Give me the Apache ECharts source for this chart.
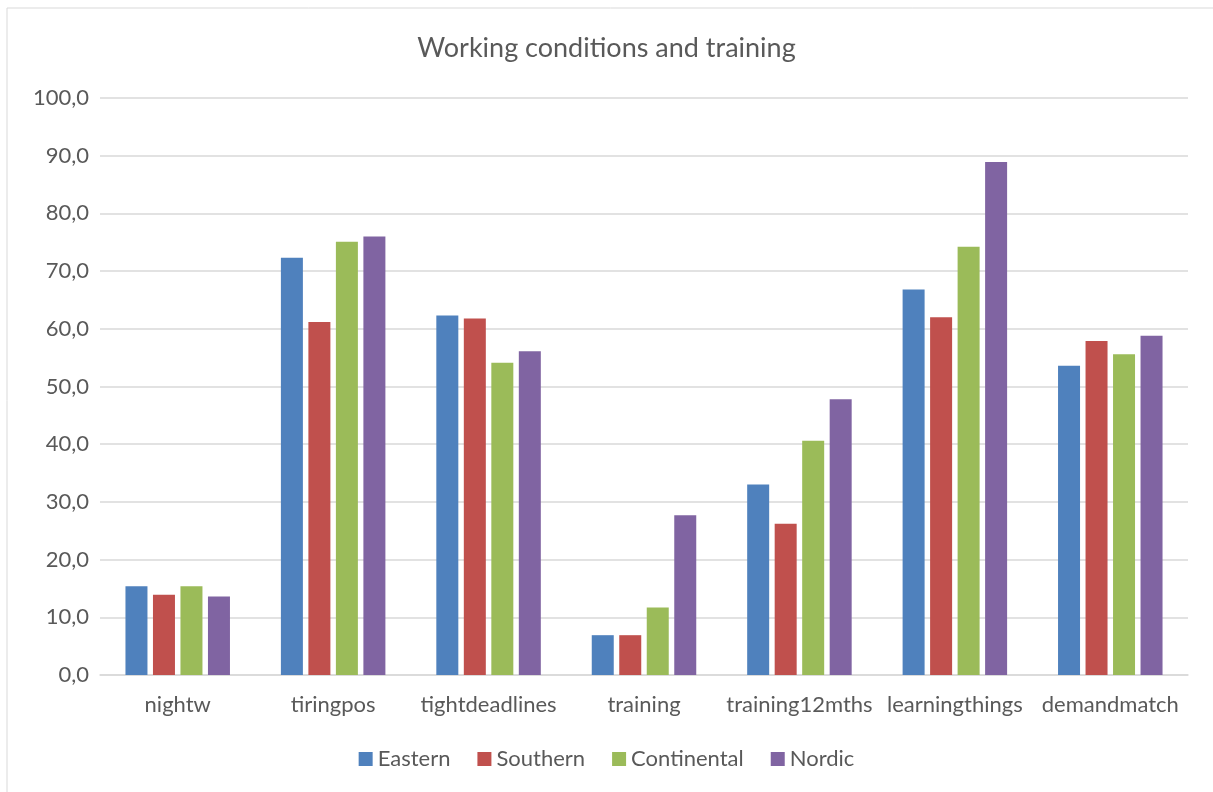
<!DOCTYPE html>
<html>
<head>
<meta charset="utf-8">
<script src="https://cdn.jsdelivr.net/npm/echarts@6/dist/echarts.min.js"></script>
<style>
  html, body { margin: 0; padding: 0; background: #fff; }
  #wrap { width: 1213px; height: 792px; }
</style>
</head>
<body>
<div id="wrap"></div>
<script>
var categories = ['nightw', 'tiringpos', 'tightdeadlines', 'training', 'training12mths', 'learningthings', 'demandmatch'];
var eastern = [15.4, 72.3, 62.3, 6.9, 33.0, 66.8, 53.6];
var southern = [13.9, 61.2, 61.8, 6.9, 26.2, 62.0, 57.9];
var continental = [15.4, 75.1, 54.1, 11.7, 40.6, 74.2, 55.6];
var nordic = [13.6, 76.0, 56.1, 27.7, 47.8, 88.9, 58.8];

var textColor = '#595959';
var fontFamily = 'Lato, "Open Sans", sans-serif';

function bar(name, data, color) {
    return {
        name: name,
        type: 'bar',
        data: data,
        barWidth: 22,
        barGap: '25%',
        itemStyle: { color: color }
    };
}

var option = {
    animation: false,
    textStyle: { fontFamily: fontFamily },
    title: {
        text: 'Working conditions and training',
        left: 'center',
        top: 30,
        textStyle: { color: textColor, fontSize: 27, fontWeight: 'normal', fontFamily: fontFamily }
    },
    graphic: [{
        type: 'rect',
        shape: { x: 7, y: 8, width: 1212, height: 790 },
        style: { fill: null, stroke: '#d9d9d9', lineWidth: 1 },
        silent: true
    }],
    legend: {
        data: ['Eastern', 'Southern', 'Continental', 'Nordic'],
        bottom: 17,
        left: 'center',
        itemWidth: 14,
        itemHeight: 14,
        itemGap: 27,
        icon: 'rect',
        textStyle: { color: textColor, fontSize: 22, fontFamily: fontFamily }
    },
    grid: {
        left: 100,
        right: 25,
        top: 98,
        bottom: 117
    },
    xAxis: {
        type: 'category',
        data: categories,
        axisTick: { show: false },
        axisLine: { lineStyle: { color: '#d9d9d9', width: 1.5 } },
        axisLabel: { color: textColor, fontSize: 22, margin: 19, interval: 0, fontFamily: fontFamily }
    },
    yAxis: {
        type: 'value',
        min: 0,
        max: 100,
        interval: 10,
        axisLine: { show: false },
        axisTick: { show: false },
        splitLine: { lineStyle: { color: '#d9d9d9', width: 1.5 } },
        axisLabel: {
            color: textColor,
            fontSize: 22,
            margin: 11,
            fontFamily: fontFamily,
            formatter: function (v) { return v.toFixed(1).replace('.', ','); }
        }
    },
    series: [
        bar('Eastern', eastern, '#4f81bd'),
        bar('Southern', southern, '#c0504d'),
        bar('Continental', continental, '#9bbb59'),
        bar('Nordic', nordic, '#8064a2')
    ]
};

var myChart = echarts.init(document.getElementById('wrap'));
myChart.setOption(option);
</script>
</body>
</html>
